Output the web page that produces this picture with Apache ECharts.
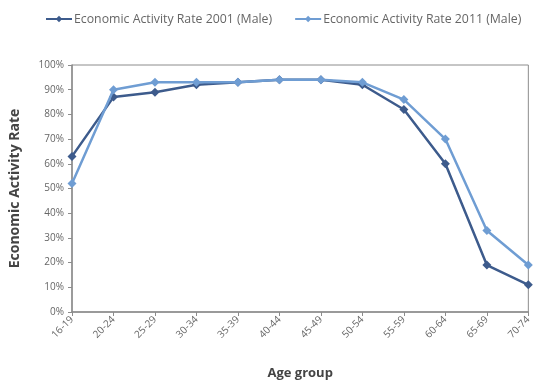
<!DOCTYPE html>
<html>
<head>
<meta charset="utf-8">
<script src="https://cdn.jsdelivr.net/npm/echarts@6/dist/echarts.min.js"></script>
<style>
  html, body { margin: 0; padding: 0; background: #fff; }
  #chart { width: 534px; height: 385px; }
</style>
</head>
<body>
<div id="chart"></div>
<script>
// Age groups along the horizontal axis
var ageGroups = ['16-19', '20-24', '25-29', '30-34', '35-39', '40-44', '45-49', '50-54', '55-59', '60-64', '65-69', '70-74'];

// Male economic activity rates (%) by census year
var rate2001 = [63, 87, 89, 92, 93, 94, 94, 92, 82, 60, 19, 11];
var rate2011 = [52, 90, 93, 93, 93, 94, 94, 93, 86, 70, 33, 19];

var seriesNames = ['Economic Activity Rate 2001 (Male)', 'Economic Activity Rate 2011 (Male)'];

var chart = echarts.init(document.getElementById('chart'), null, { renderer: 'canvas' });

var axisGray = '#8c8c8c';
var labelGray = '#666';

chart.setOption({
  animation: false,
  backgroundColor: '#fff',
  textStyle: { fontFamily: 'Open Sans, Liberation Sans, sans-serif' },
  legend: {
    top: 8,
    left: 40,
    itemGap: 22,
    itemWidth: 26,
    itemHeight: 8,
    textStyle: { fontSize: 12.3, color: labelGray, fontFamily: 'Open Sans', padding: [0, 0, 0, -3] },
    data: seriesNames
  },
  grid: {
    left: 71,
    right: 3,
    top: 65,
    bottom: 72,
    show: true,
    borderColor: axisGray,
    borderWidth: 1
  },
  xAxis: {
    type: 'category',
    data: ageGroups,
    boundaryGap: false,
    name: 'Age group',
    nameLocation: 'middle',
    nameGap: 55,
    nameTextStyle: { fontSize: 13, fontWeight: 'bold', color: '#444' },
    axisLine: { lineStyle: { color: axisGray, width: 1.5 } },
    axisTick: { show: true, alignWithLabel: true, length: 4, lineStyle: { color: axisGray } },
    axisLabel: { rotate: 45, fontSize: 10, color: labelGray, margin: 6, interval: 0 },
    splitLine: { show: false }
  },
  yAxis: {
    type: 'value',
    min: 0,
    max: 100,
    interval: 10,
    name: 'Economic Activity Rate',
    nameLocation: 'middle',
    nameGap: 50,
    nameTextStyle: { fontSize: 14, fontWeight: 'bold', color: '#444' },
    axisLine: { show: true, lineStyle: { color: axisGray, width: 1.5 } },
    axisTick: { show: true, length: 4, lineStyle: { color: axisGray } },
    axisLabel: { fontSize: 10, color: labelGray, margin: 8, formatter: '{value}%' },
    splitLine: { show: false }
  },
  series: [
    {
      name: seriesNames[0],
      type: 'line',
      data: rate2001,
      symbol: 'diamond',
      symbolSize: 9,
      color: '#3d5b8c',
      lineStyle: { width: 2.5, color: '#3d5b8c' },
      itemStyle: { color: '#3d5b8c' },
      z: 2
    },
    {
      name: seriesNames[1],
      type: 'line',
      data: rate2011,
      symbol: 'diamond',
      symbolSize: 9,
      color: '#6f9dd3',
      lineStyle: { width: 2.5, color: '#6f9dd3' },
      itemStyle: { color: '#6f9dd3' },
      z: 3
    }
  ]
});
</script>
</body>
</html>
